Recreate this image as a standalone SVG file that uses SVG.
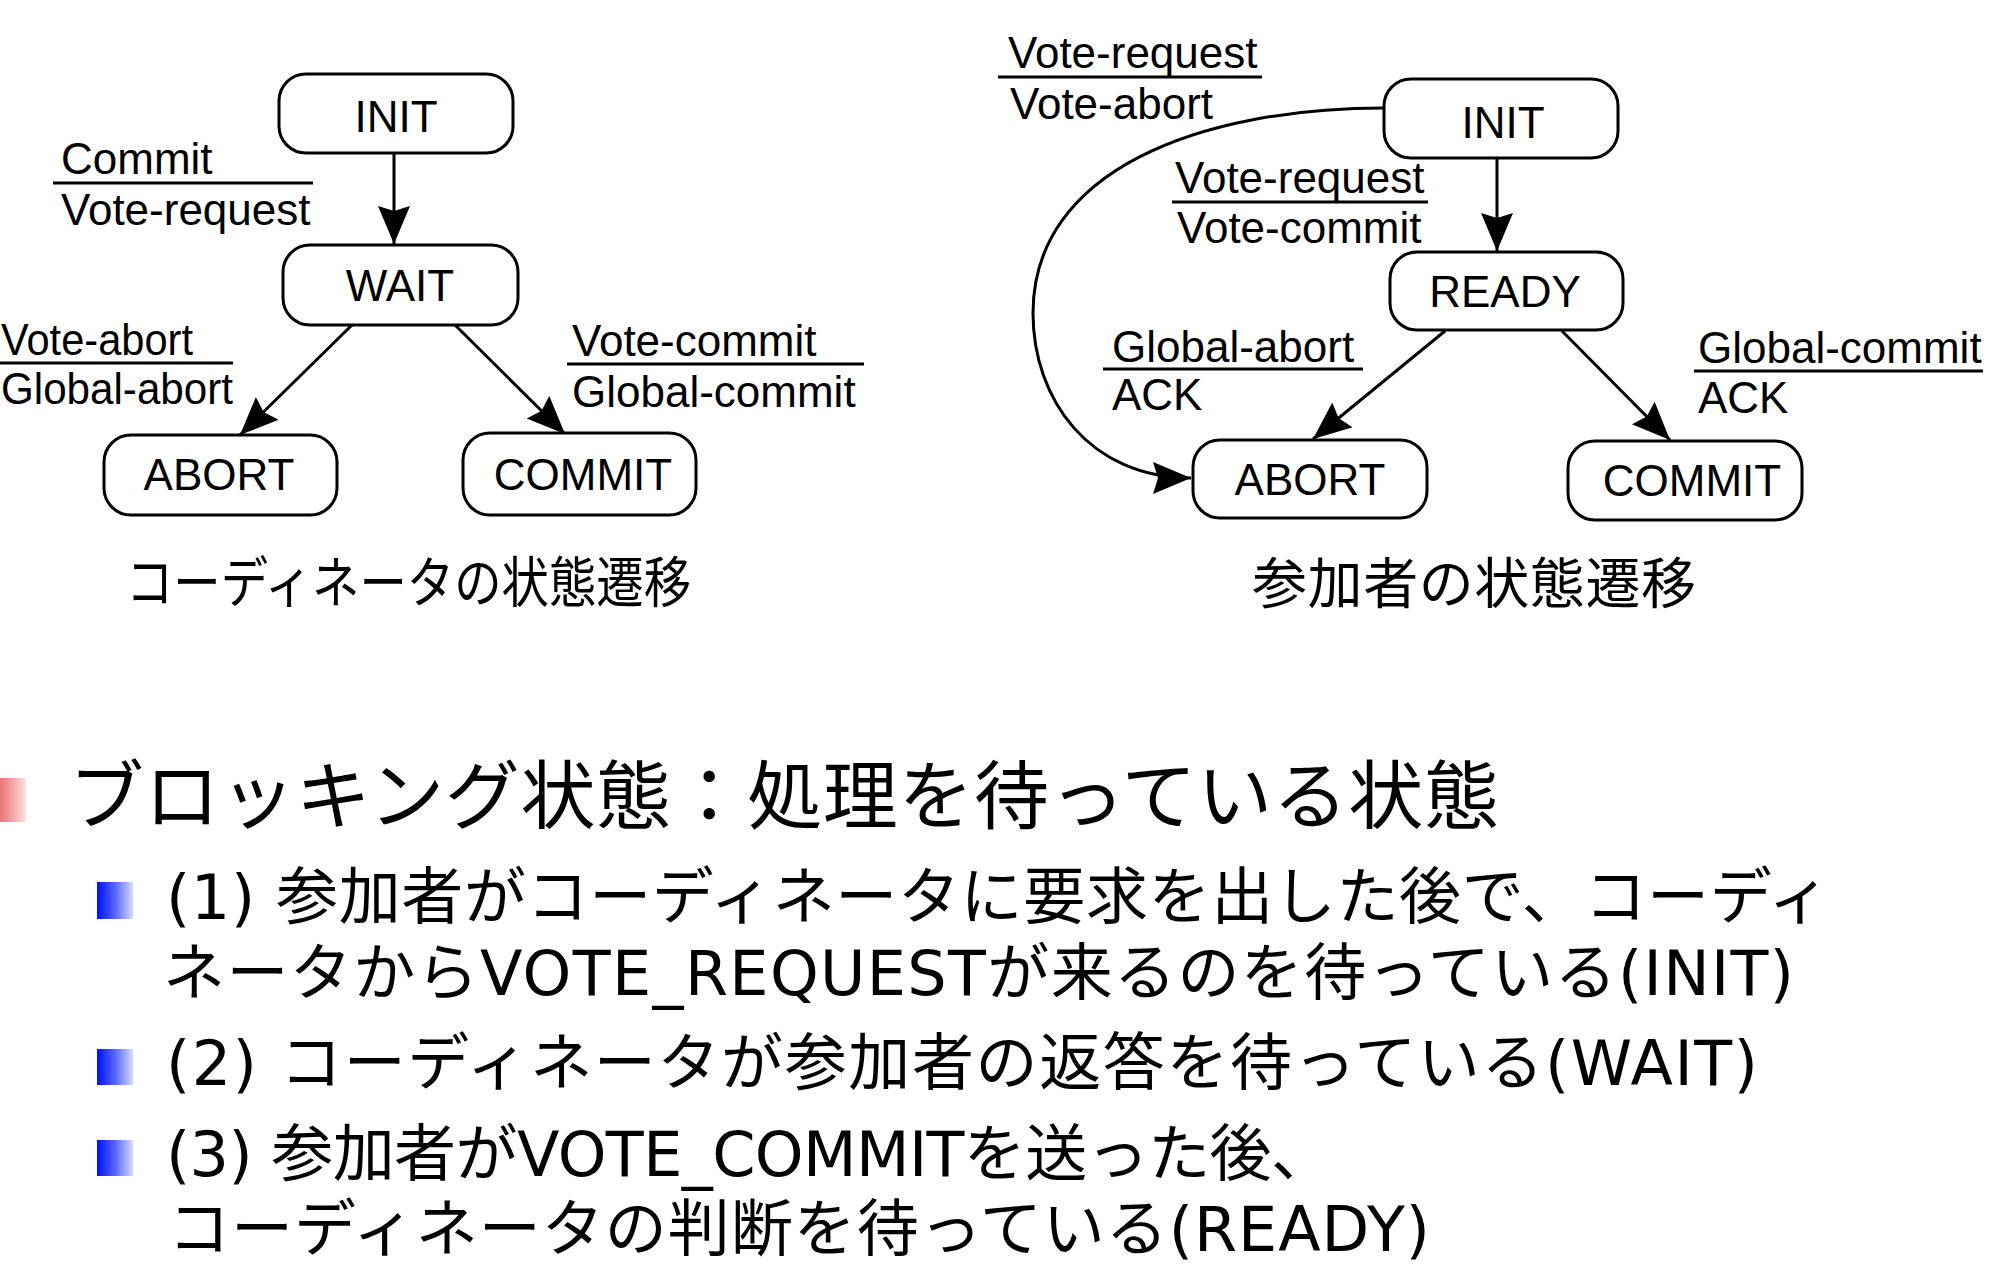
<svg xmlns="http://www.w3.org/2000/svg" width="2004" height="1278" viewBox="0 0 2004 1278">
  <defs>
    <marker id="arr" markerUnits="userSpaceOnUse" markerWidth="40" markerHeight="34" refX="38" refY="16" orient="auto">
      <path d="M0,0 L38,16 L0,32 L5,16 z" fill="#000"/>
    </marker>
    <linearGradient id="gRed" x1="0" y1="0" x2="1" y2="0">
      <stop offset="0" stop-color="#e23a3a"/>
      <stop offset="0.55" stop-color="#ef8a8a"/>
      <stop offset="1" stop-color="#fbe0e0"/>
    </linearGradient>
    <linearGradient id="gBlue" x1="0" y1="0" x2="1" y2="0">
      <stop offset="0" stop-color="#0010ff"/>
      <stop offset="0.5" stop-color="#5566ff"/>
      <stop offset="1" stop-color="#d6dbff"/>
    </linearGradient>
  </defs>
  <style>
    .box { fill: #fff; stroke: #000; stroke-width: 3; }
    .ntxt { font-family: "Liberation Sans", Arial, sans-serif; font-size: 44px; fill: #000; text-anchor: middle; }
    .lbl { font-family: "Liberation Sans", Arial, sans-serif; font-size: 44px; fill: #000; }
    .bar { stroke: #000; stroke-width: 3; }
    .edge { fill: none; stroke: #000; stroke-width: 3; marker-end: url(#arr); }
    .cap { font-family: "Noto Sans CJK JP", sans-serif; font-size: 55px; fill: #000; }
    .h1 { font-family: "Noto Sans CJK JP", sans-serif; font-size: 75px; fill: #000; }
    .h2 { font-family: "DejaVu Sans", "Noto Sans CJK JP", sans-serif; font-size: 62px; fill: #000; }
  </style>
  <rect width="2004" height="1278" fill="#fff"/>

  <!-- Connectors -->
  <g id="connectors">
    <path class="edge" d="M394,153 L394,244"/>
    <path class="edge" d="M352,325 L240,435"/>
    <path class="edge" d="M455,325 L565,434"/>
    <path class="edge" d="M1497,158 L1497,251"/>
    <path class="edge" d="M1445,331 L1313,439"/>
    <path class="edge" d="M1562,331 L1670,440"/>
    <path class="edge" d="M1384,108 C1200,108 1033,170 1033,313 C1033,400 1090,478 1191,478"/>
  </g>

  <!-- Edge labels -->
  <g id="labels">
    <text class="lbl" x="61" y="174">Commit</text>
    <line class="bar" x1="53" y1="183" x2="313" y2="183"/>
    <text class="lbl" x="61" y="225">Vote-request</text>

    <text class="lbl" x="1" y="355" textLength="192" lengthAdjust="spacingAndGlyphs">Vote-abort</text>
    <line class="bar" x1="0" y1="363" x2="233" y2="363"/>
    <text class="lbl" x="1" y="404" textLength="232" lengthAdjust="spacingAndGlyphs">Global-abort</text>

    <text class="lbl" x="572" y="356">Vote-commit</text>
    <line class="bar" x1="567" y1="364" x2="864" y2="364"/>
    <text class="lbl" x="572" y="407">Global-commit</text>

    <text class="lbl" x="1008" y="68">Vote-request</text>
    <line class="bar" x1="998" y1="77" x2="1262" y2="77"/>
    <text class="lbl" x="1010" y="119">Vote-abort</text>

    <text class="lbl" x="1175" y="193">Vote-request</text>
    <line class="bar" x1="1172" y1="202" x2="1428" y2="202"/>
    <text class="lbl" x="1177" y="243">Vote-commit</text>

    <text class="lbl" x="1112" y="362">Global-abort</text>
    <line class="bar" x1="1103" y1="369" x2="1363" y2="369"/>
    <text class="lbl" x="1112" y="410">ACK</text>

    <text class="lbl" x="1698" y="363">Global-commit</text>
    <line class="bar" x1="1694" y1="371" x2="1983" y2="371"/>
    <text class="lbl" x="1698" y="413">ACK</text>
  </g>

  <!-- Coordinator nodes -->
  <g id="c-init"><rect class="box" x="279" y="74" width="234" height="79" rx="27"/><text class="ntxt" x="396" y="132">INIT</text></g>
  <g id="c-wait"><rect class="box" x="283" y="245" width="235" height="80" rx="27"/><text class="ntxt" x="400" y="301">WAIT</text></g>
  <g id="c-abort"><rect class="box" x="104" y="435" width="233" height="80" rx="27"/><text class="ntxt" x="219" y="490">ABORT</text></g>
  <g id="c-commit"><rect class="box" x="463" y="433" width="233" height="82" rx="27"/><text class="ntxt" x="583" y="490">COMMIT</text></g>

  <!-- Participant nodes -->
  <g id="p-init"><rect class="box" x="1384" y="79" width="234" height="79" rx="27"/><text class="ntxt" x="1503" y="138">INIT</text></g>
  <g id="p-ready"><rect class="box" x="1390" y="252" width="233" height="78" rx="27"/><text class="ntxt" x="1505" y="307">READY</text></g>
  <g id="p-abort"><rect class="box" x="1193" y="440" width="234" height="78" rx="27"/><text class="ntxt" x="1310" y="495">ABORT</text></g>
  <g id="p-commit"><rect class="box" x="1568" y="441" width="234" height="79" rx="27"/><text class="ntxt" x="1692" y="496">COMMIT</text></g>

  <!-- Captions -->
  <g id="captions">
    <text class="cap" x="126" y="602" textLength="565" lengthAdjust="spacingAndGlyphs">コーディネータの状態遷移</text>
    <text class="cap" x="1252" y="603" textLength="444" lengthAdjust="spacing">参加者の状態遷移</text>
  </g>

  <!-- Bullet text -->
  <g id="bullets">
    <rect x="-18" y="778" width="44" height="44" fill="url(#gRed)"/>
    <text class="h1" x="69" y="823" textLength="1430" lengthAdjust="spacing">ブロッキング状態：処理を待っている状態</text>

    <rect x="97" y="882" width="36" height="37" fill="url(#gBlue)"/>
    <text class="h2" x="166" y="919" textLength="1664" lengthAdjust="spacing">(1) 参加者がコーディネータに要求を出した後で、コーディ</text>
    <text class="h2" x="163" y="995" textLength="1631" lengthAdjust="spacing">ネータからVOTE_REQUESTが来るのを待っている(INIT)</text>

    <rect x="97" y="1049" width="36" height="36" fill="url(#gBlue)"/>
    <text class="h2" x="166" y="1085" textLength="1592" lengthAdjust="spacing">(2) コーディネータが参加者の返答を待っている(WAIT)</text>

    <rect x="97" y="1140" width="36" height="36" fill="url(#gBlue)"/>
    <text class="h2" x="166" y="1176" textLength="1167" lengthAdjust="spacing">(3) 参加者がVOTE_COMMITを送った後、</text>
    <text class="h2" x="168" y="1251" textLength="1262" lengthAdjust="spacing">コーディネータの判断を待っている(READY)</text>
  </g>
</svg>
